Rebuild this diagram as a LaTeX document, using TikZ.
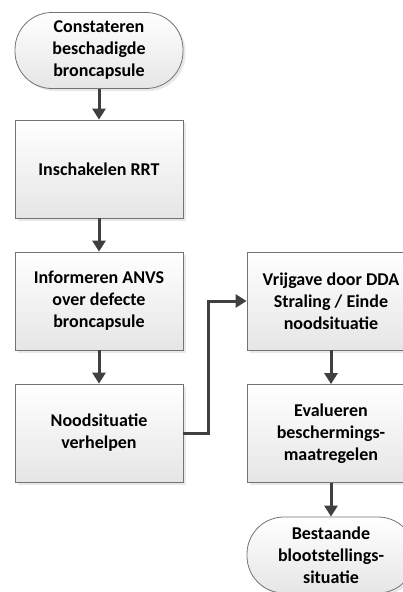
\documentclass[tikz,border=0pt]{standalone}
\usepackage{fontspec}
\setmainfont{Carlito}
\usetikzlibrary{arrows.meta,shadows}

\begin{document}
\begin{tikzpicture}[x=1pt,y=-1pt,
  box/.style={draw=black!55, line width=0.8pt, top color=white, bottom color=black!10,
    drop shadow={shadow xshift=2.5pt,shadow yshift=-2.5pt,opacity=0.18},
    minimum width=168pt, minimum height=98pt, align=center, inner sep=0pt,
    font=\fontsize{18}{22}\selectfont\bfseries},
  term/.style={box, rounded corners=37pt, minimum height=76pt},
  flow/.style={draw=black!75, line width=3pt, -{Triangle[length=11pt,width=13pt]}}]
\useasboundingbox (0,0) rectangle (403,592);
\node[term] (begin) at (99,50.5) {Constateren\\beschadigde\\broncapsule};
\node[box] (rrt) at (99,169) {Inschakelen RRT};
\node[box] (anvs) at (99,301) {Informeren ANVS\\over defecte\\broncapsule};
\node[box] (nood) at (99,433) {Noodsituatie\\verhelpen};
\node[box] (vrij) at (331,301) {Vrijgave door DDA\\Straling / Einde\\noodsituatie};
\node[box] (eval) at (331,433.5) {Evalueren\\beschermings-\\maatregelen};
\node[term] (einde) at (331,555) {Bestaande\\blootstellings-\\situatie};
\draw[flow] (begin) -- (rrt);
\draw[flow] (rrt) -- (anvs);
\draw[flow] (anvs) -- (nood);
\draw[flow, rounded corners=0pt] (nood.east) -- ++(25,0) |- (vrij.west);
\draw[flow] (vrij) -- (eval);
\draw[flow] (eval) -- (einde);
\end{tikzpicture}
\end{document}
